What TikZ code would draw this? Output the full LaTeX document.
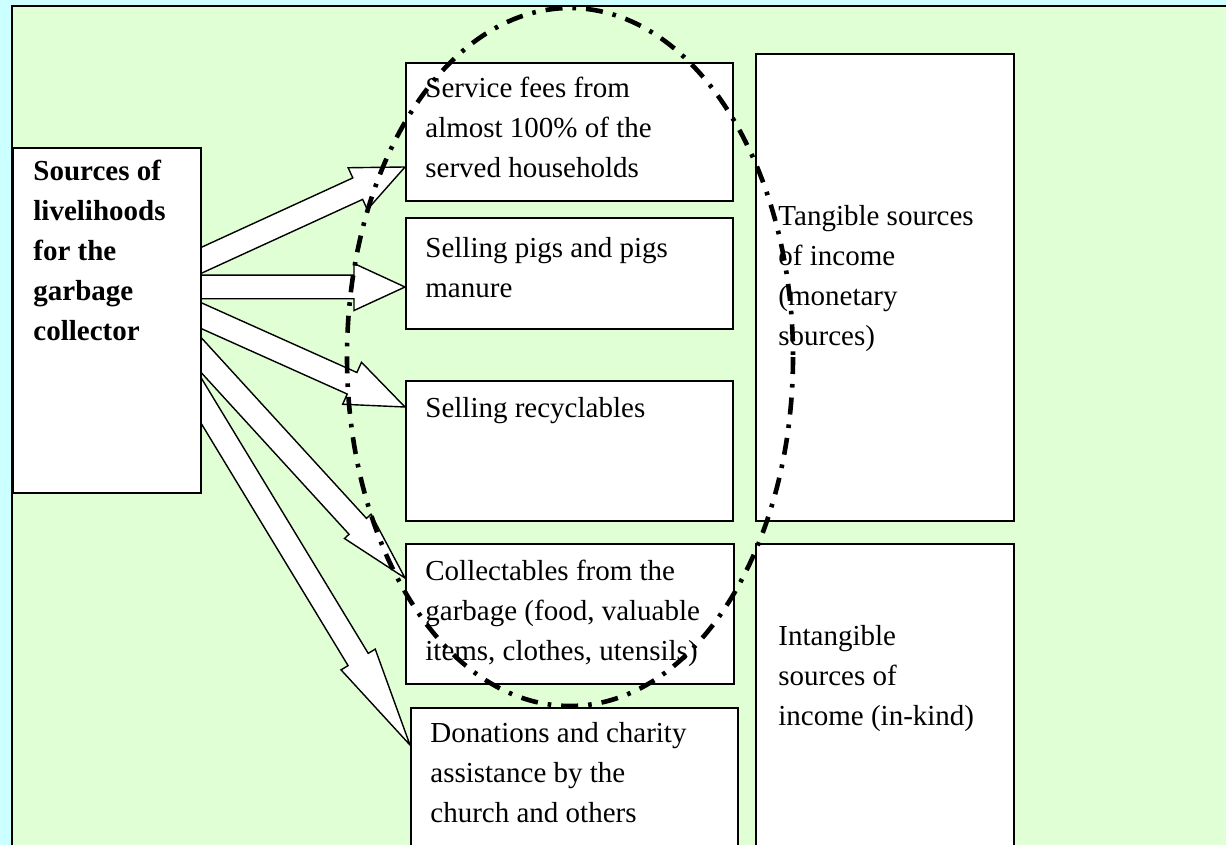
\documentclass[tikz,border=0pt]{standalone}
\usepackage{fontspec}
\setmainfont{Liberation Serif}
\usetikzlibrary{calc}

\definecolor{skyback}{RGB}{204,255,255}
\definecolor{mintback}{RGB}{224,255,212}

\pgfdeclarelayer{bg}
\pgfdeclarelayer{arrowlayer}
\pgfsetlayers{bg,arrowlayer,main}

\tikzset{
  box/.style={draw, line width=0.8pt, fill=white, inner sep=0pt, anchor=north west},
  txt/.style={anchor=north west, inner sep=0pt, align=left, font=\fontsize{14.5}{20}\selectfont},
  blockarrow/.style={draw, line width=0.7pt, fill=white, line join=miter},
  ring/.style={draw, line width=2.3pt, dash pattern=on 8.5pt off 5pt on 1.8pt off 5pt}
}

% hollow arrow from #1 to #2, head length #3, head half width #4
\newcommand{\livearrow}[4]{%
  \coordinate (ah) at ($(#2)!#3!(#1)$);
  \coordinate (at) at ($(#1)!-12pt!(#2)$);
  \begin{pgfonlayer}{arrowlayer}
    \draw[blockarrow] ($(at)!5.9pt!90:(#2)$) -- ($(ah)!5.9pt!90:(#2)$) -- ($(ah)!#4!90:(#2)$) -- (#2)
      -- ($(ah)!#4!-90:(#2)$) -- ($(ah)!5.9pt!-90:(#2)$) -- ($(at)!5.9pt!-90:(#2)$) -- cycle;
  \end{pgfonlayer}}

\begin{document}
\begin{tikzpicture}[x=0.5pt, y=-0.5pt]
\useasboundingbox (0,0) rectangle (1226,845);

%Background
\begin{pgfonlayer}{bg}
\fill[skyback] (0,0) rectangle (1226,845);
\draw[line width=1.2pt, fill=mintback] (12,6) rectangle (1240,870);
\end{pgfonlayer}

%Boxes
\node[box, line width=1pt, minimum width=94pt, minimum height=172.5pt] (src) at (12,147) {};

\node[box, minimum width=163.5pt, minimum height=69pt] (fees) at (405,62) {};
\node[box, minimum width=163.5pt, minimum height=55.5pt] (pigs) at (405,217) {};
\node[box, minimum width=163.5pt, minimum height=70pt] (recyc) at (405,380) {};
\node[box, minimum width=164pt, minimum height=70pt] (collect) at (405,543) {};
\node[box, minimum width=163.5pt, minimum height=96.5pt] (donate) at (410,707) {};

\node[box, minimum width=129pt, minimum height=233.5pt] (tangible) at (755,53) {};
\node[box, minimum width=129pt, minimum height=178.5pt] (intangible) at (755,543) {};

%Texts
\node[txt, font=\fontsize{14.5}{20}\selectfont\bfseries] (srctext) at (33,160) {Sources of\\livelihoods\\for the\\garbage\\collector};

\node[txt] (feestext) at (425,77) {Service fees from\\almost 100\% of the\\served households};
\node[txt] (pigstext) at (425,237) {Selling pigs and pigs\\manure};
\node[txt] (recyctext) at (425,397) {Selling recyclables};
\node[txt] (collecttext) at (425,560) {Collectables from the\\garbage (food, valuable\\items, clothes, utensils)};
\node[txt] (donatetext) at (430,722) {Donations and charity\\assistance by the\\church and others};

\node[txt] (tangtext) at (778,205) {Tangible sources\\of income\\(monetary\\sources)};
\node[txt] (intangtext) at (778,625) {Intangible\\sources of\\income (in-kind)};

%Arrows
\coordinate (s1) at ($(src.north east)+(0,113)$);
\coordinate (s2) at ($(src.north east)+(0,140)$);
\coordinate (s3) at ($(src.north east)+(0,169)$);
\coordinate (s4) at ($(src.north east)+(0,209)$);
\coordinate (s5) at ($(src.north east)+(0,255)$);

\coordinate (t1) at ($(fees.north west)+(0,105)$);
\coordinate (t2) at ($(pigs.north west)+(0,70)$);
\coordinate (t3) at ($(recyc.north west)+(0,27)$);
\coordinate (t4) at ($(collect.north west)+(0,35)$);
\coordinate (t5) at ($(donate.north west)+(0,38)$);

\livearrow{s1}{t1}{26pt}{11.5pt}
\livearrow{s2}{t2}{25.5pt}{11.75pt}
\livearrow{s3}{t3}{29pt}{11.5pt}
\livearrow{s4}{t4}{35pt}{9pt}
\livearrow{s5}{t5}{50pt}{10pt}

%Ring
\draw[ring] (570,357) ellipse [x radius=223, y radius=349];
\end{tikzpicture}
\end{document}
